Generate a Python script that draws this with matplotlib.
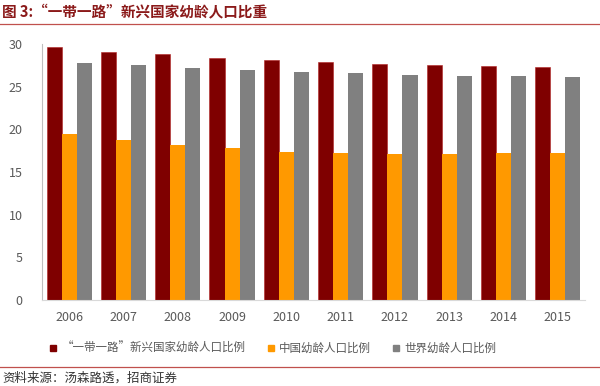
import matplotlib
matplotlib.use("Agg")
import matplotlib.pyplot as plt
import numpy as np
from matplotlib.lines import Line2D

plt.rcParams['font.family'] = ['Noto Sans CJK SC', 'DejaVu Sans']

years = ["2006", "2007", "2008", "2009", "2010", "2011", "2012", "2013", "2014", "2015"]
belt_road = [29.7, 29.1, 28.8, 28.4, 28.1, 27.9, 27.7, 27.5, 27.4, 27.3]
china = [19.5, 18.8, 18.2, 17.8, 17.4, 17.2, 17.1, 17.1, 17.2, 17.2]
world = [27.8, 27.5, 27.2, 26.9, 26.7, 26.6, 26.4, 26.3, 26.2, 26.1]
labels = ["“一带一路”新兴国家幼龄人口比例", "中国幼龄人口比例", "世界幼龄人口比例"]
colors = ["#7F0000", "#FF9900", "#808080"]

fig = plt.figure(figsize=(6, 3.86), dpi=100)
ax = fig.add_axes([0.07, 0.2228, 0.905, 0.6632])

x = np.arange(len(years))
w = 0.277
ax.bar(x - w, belt_road, w, color=colors[0], edgecolor="#B22222", linewidth=0.4)
ax.bar(x, china, w, color=colors[1], linewidth=0)
ax.bar(x + w, world, w, color=colors[2], linewidth=0)

ax.set_xlim(-0.5, len(years) - 0.5)
ax.set_ylim(0, 30)
ax.set_yticks([0, 5, 10, 15, 20, 25, 30])
ax.set_xticks(x)
ax.set_xticklabels(years)
ax.tick_params(axis='both', length=0, labelsize=9, colors="#595959")
ax.tick_params(axis='x', pad=8)
ax.tick_params(axis='y', pad=14)
for s in ["top", "right"]:
    ax.spines[s].set_visible(False)
ax.spines["left"].set_color("#BFBFBF")
ax.spines["bottom"].set_color("#D9D9D9")
ax.spines["left"].set_linewidth(0.8)
ax.spines["bottom"].set_linewidth(0.8)

handles = [Line2D([], [], marker='s', linestyle='none', color=c, markersize=4.5) for c in colors]
fig.legend(handles, labels, loc='center', bbox_to_anchor=(0.452, 0.098), ncol=3,
           frameon=False, fontsize=8.3, handletextpad=0.1, columnspacing=1.6,
           handlelength=1.2, labelcolor="#595959")

fig.text(0.004, 0.968, "图 3:“一带一路”新兴国家幼龄人口比重", fontsize=10.5,
         fontweight='bold', color="#8B1A1A", va='center', ha='left')
fig.add_artist(Line2D([0, 1], [1 - 24/386, 1 - 24/386], transform=fig.transFigure,
                      color="#C0504D", linewidth=0.9))
fig.add_artist(Line2D([0, 1], [1 - 367/386, 1 - 367/386], transform=fig.transFigure,
                      color="#C0504D", linewidth=0.9))
fig.text(0.004, 1 - 378/386, "资料来源：汤森路透，招商证券", fontsize=9,
         color="#333333", va='center', ha='left')

fig.savefig("out.png", dpi=100)
